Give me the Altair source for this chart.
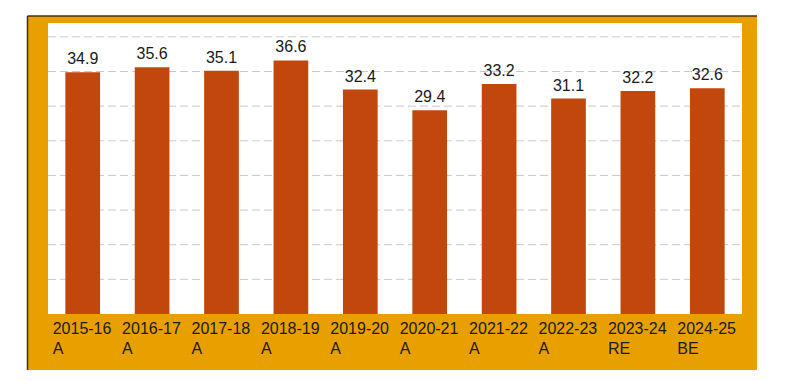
import altair as alt
import pandas as pd

years = ["2015-16", "2016-17", "2017-18", "2018-19", "2019-20",
         "2020-21", "2021-22", "2022-23", "2023-24", "2024-25"]
stages = ["A", "A", "A", "A", "A", "A", "A", "A", "RE", "BE"]
values = [34.9, 35.6, 35.1, 36.6, 32.4, 29.4, 33.2, 31.1, 32.2, 32.6]
grid_values = [5, 10, 15, 20, 25, 30, 35, 40]

W, H = 694, 291
ORANGE = "#E8A000"
BAR = "#C1470D"
BORDER = "#4A2E14"
FONT = "Liberation Sans"

cats = [f"{y}|{s}" for y, s in zip(years, stages)]
df = pd.DataFrame({"cat": cats, "value": values})
grid_df = pd.DataFrame({"g": grid_values})
one = pd.DataFrame({"k": [0]})

yscale = alt.Scale(domain=[0, 42], nice=False)

frame = alt.Chart(one).mark_rect(color=ORANGE).encode(
    x=alt.value(-20.5), x2=alt.value(W + 15), y=alt.value(-7), y2=alt.value(H + 56)
)
plotbg = alt.Chart(one).mark_rect(color="white").encode(
    x=alt.value(0), x2=alt.value(W), y=alt.value(0), y2=alt.value(H)
)
left_line = alt.Chart(one).mark_rule(color=BORDER, strokeWidth=1.5).encode(
    x=alt.value(-20.5), y=alt.value(-7), y2=alt.value(H + 56)
)
top_line = alt.Chart(one).mark_rule(color=BORDER, strokeWidth=1.5).encode(
    y=alt.value(-7), x=alt.value(-20.5), x2=alt.value(W + 15)
)
grid = alt.Chart(grid_df).mark_rule(color="#C8C8C8", strokeWidth=1, strokeDash=[8, 4]).encode(
    y=alt.Y("g:Q", scale=yscale, axis=None), x=alt.value(0), x2=alt.value(W)
)

xenc = alt.X(
    "cat:N", sort=cats, title=None,
    scale=alt.Scale(paddingInner=0.5, paddingOuter=0.25),
    axis=alt.Axis(
        labelExpr="split(datum.label, '|')",
        labelAngle=0, labelAlign="left", labelBaseline="top",
        labelOffset=-30, labelPadding=6, labelLineHeight=20,
        labelFontSize=16, labelFont=FONT, labelColor="#1A1A1A",
        labelOverlap=False, labelFlush=False,
        domain=False, ticks=False, grid=False, zindex=1,
    ),
)

bars = alt.Chart(df).mark_bar(color=BAR).encode(
    x=xenc, y=alt.Y("value:Q", scale=yscale, axis=None)
)
labels = alt.Chart(df).mark_text(
    baseline="alphabetic", dy=-8, fontSize=16, font=FONT, color="#1A1A1A"
).encode(
    x=alt.X("cat:N", sort=cats),
    y=alt.Y("value:Q", scale=yscale, axis=None),
    text=alt.Text("value:Q", format=".1f"),
)

chart = alt.layer(frame, plotbg, left_line, top_line, grid, bars, labels).properties(
    width=W, height=H,
    autosize=alt.AutoSizeParams(type="none"),
    padding={"left": 40, "top": 15, "right": 40, "bottom": 59},
    background="white",
).configure_view(stroke=None)

chart.save("out.html", embed_options={"renderer": "svg", "actions": False})
